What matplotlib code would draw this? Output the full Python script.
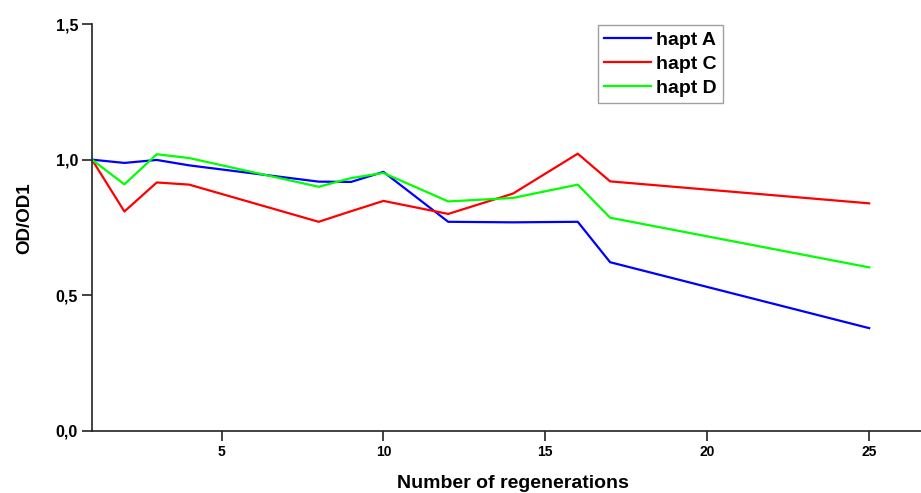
import matplotlib.pyplot as plt
from matplotlib.ticker import FuncFormatter

# regeneration number and OD/OD1 per haplotype
regen = [1, 2, 3, 4, 8, 9, 10, 12, 14, 16, 17, 25]
hapt_a = [1.0, 0.988, 0.999, 0.979, 0.919, 0.918, 0.955, 0.771, 0.769, 0.771, 0.622, 0.379]
hapt_c = [1.0, 0.809, 0.916, 0.908, 0.771, 0.810, 0.848, 0.800, 0.875, 1.022, 0.920, 0.839]
hapt_d = [1.0, 0.909, 1.020, 1.006, 0.900, 0.932, 0.951, 0.846, 0.859, 0.908, 0.786, 0.603]

plt.rcParams['font.family'] = ['Liberation Sans', 'DejaVu Sans']

fig = plt.figure(figsize=(9.21, 4.93), dpi=100)
ax = fig.add_axes([0.0999, 0.1258, 0.9001, 0.8255])

ax.plot(regen, hapt_a, color='#0000ff', lw=1.6, label='hapt A')
ax.plot(regen, hapt_c, color='#ff0000', lw=1.6, label='hapt C')
ax.plot(regen, hapt_d, color='#00ff00', lw=1.6, label='hapt D')

ax.set_xlim(1, 26.6)
ax.set_ylim(0, 1.5)
ax.set_xticks([5, 10, 15, 20, 25])
ax.set_yticks([0, 0.5, 1.0, 1.5])
ax.yaxis.set_major_formatter(FuncFormatter(lambda v, p: f'{v:.1f}'.replace('.', ',')))

for s in ['top', 'right']:
    ax.spines[s].set_visible(False)
for s in ['left', 'bottom']:
    ax.spines[s].set_linewidth(1.2)
    ax.spines[s].set_color('#222222')

ax.tick_params(axis='both', direction='out', length=7, width=1.2, color='#222222')
ax.tick_params(axis='x', pad=3)
ax.tick_params(axis='y', pad=3)
for lbl in ax.get_xticklabels():
    lbl.set_fontweight('bold')
    lbl.set_fontsize(10)
for lbl in ax.get_yticklabels():
    lbl.set_fontweight('bold')
    lbl.set_fontsize(11.5)

ax.set_xlabel('Number of regenerations', fontsize=14, fontweight='bold')
ax.xaxis.set_label_coords(0.508, -0.108)
ax.set_ylabel('OD/OD1', fontsize=13.5, fontweight='bold')
ax.yaxis.set_label_coords(-0.071, 0.523)

leg = ax.legend(loc='upper left', bbox_to_anchor=(0.61, 0.997),
                prop={'weight': 'bold', 'size': 14}, frameon=True, fancybox=False,
                edgecolor='#888888', handlelength=2.45, handletextpad=0.27,
                labelspacing=0.33, borderpad=0.3, borderaxespad=0)
leg.get_frame().set_linewidth(1.0)

fig.savefig('out.png', dpi=100)
